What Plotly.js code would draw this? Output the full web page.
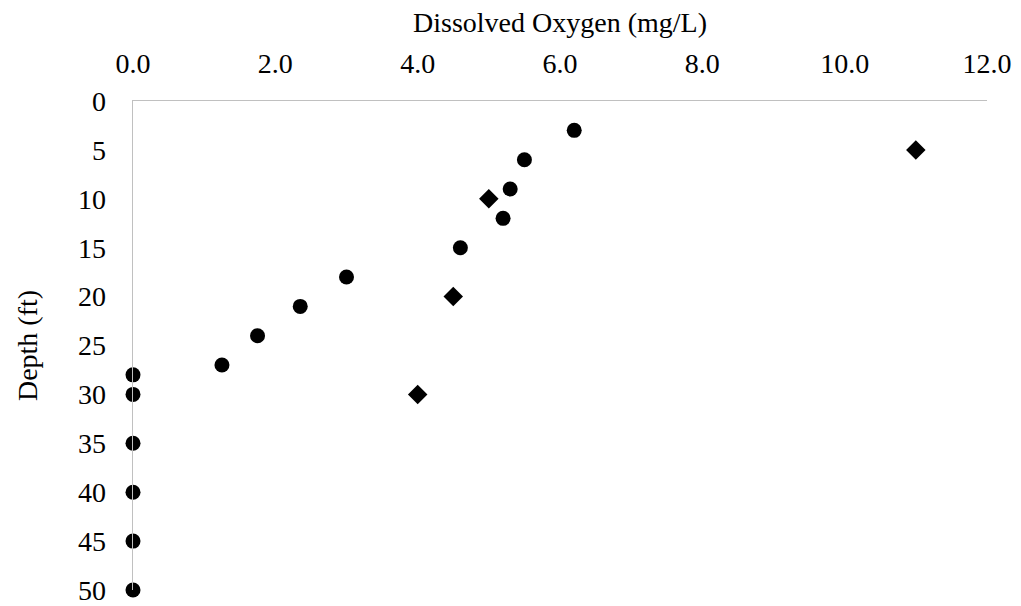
<!DOCTYPE html>
<html>
<head>
<meta charset="utf-8">
<script src="https://cdn.plot.ly/plotly-3.0.1.min.js"></script>
<style>html,body{margin:0;padding:0;background:#fff;}#chart{width:1021px;height:606px;}</style>
</head>
<body>
<div id="chart"></div>
<script>
// Series 1 (circles)
const depthSeries1 = [3, 6, 9, 12, 15, 18, 21, 24, 27, 28, 30, 35, 40, 45, 50];
const doSeries1 = [6.2, 5.5, 5.3, 5.2, 4.6, 3.0, 2.35, 1.75, 1.25, 0, 0, 0, 0, 0, 0];
// Series 2 (diamonds)
const depthSeries2 = [5, 10, 20, 30];
const doSeries2 = [11.0, 5.0, 4.5, 4.0];

const xTitle = "Dissolved Oxygen (mg/L)";
const yTitle = "Depth (ft)";

function txt() { return {family: "Times New Roman, Liberation Serif, Tinos, Times, serif", size: 28, color: "#000000"}; }

const traces = [
  {x: doSeries1, y: depthSeries1, type: "scatter", mode: "markers", cliponaxis: false,
   marker: {symbol: "circle", size: 15, color: "#000", line: {width: 0}}, name: "Series 1"},
  {x: doSeries2, y: depthSeries2, type: "scatter", mode: "markers", cliponaxis: false,
   marker: {symbol: "diamond", size: 15, color: "#000", line: {width: 0}}, name: "Series 2"}
];

const layout = {
  width: 1021, height: 606,
  margin: {l: 133, r: 34, t: 101, b: 16},
  paper_bgcolor: "#fff", plot_bgcolor: "#fff",
  showlegend: false,
  font: txt(),
  xaxis: {
    side: "top", range: [0, 12], dtick: 2, tick0: 0, tickformat: ".1f",
    showgrid: false, zeroline: false, showline: true, linecolor: "#c0c0c0", linewidth: 1.5,
    ticks: "", ticklabelstandoff: 15, tickfont: txt(),
    title: {text: xTitle, font: txt(), standoff: 7}
  },
  yaxis: {
    range: [50, 0], dtick: 5, tick0: 0,
    showgrid: false, zeroline: false, showline: true, linecolor: "#c0c0c0", linewidth: 1.5,
    ticks: "", ticklabelstandoff: 20, tickfont: txt(),
    title: {text: yTitle, font: txt(), standoff: 32}
  }
};

Plotly.newPlot("chart", traces, layout, {displayModeBar: false, staticPlot: true});
</script>
</body>
</html>
